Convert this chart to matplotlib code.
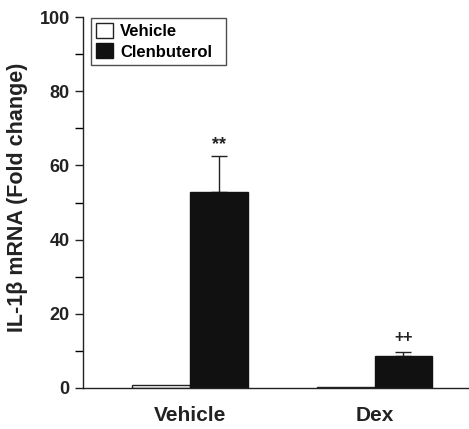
import matplotlib
matplotlib.use("Agg")
import matplotlib.pyplot as plt
import numpy as np
from matplotlib.ticker import MultipleLocator

groups = ["Vehicle", "Dex"]
series = ["Vehicle", "Clenbuterol"]
vehicle_vals = [0.8, 0.3]
clen_vals = [52.9, 8.6]
clen_err = [9.5, 1.1]
annotations = ["**", "++"]
annot_sizes = [13, 11.5]
annot_offsets = [1.0, 1.8]

plt.rcParams['font.family'] = ['Liberation Sans', 'DejaVu Sans']
plt.rcParams['font.weight'] = 'bold'

fig = plt.figure(figsize=(4.69, 4.29), dpi=100)
ax = fig.add_axes([83/469, 1-388/429, 1-83/469, (388-17)/429])

x = np.arange(len(groups))
w = 0.314
ax.bar(x - w/2, vehicle_vals, w, color='white', edgecolor='#222222', linewidth=1.0,
       label=series[0], zorder=2)
ax.bar(x + w/2, clen_vals, w, color='#111111', edgecolor='#111111', linewidth=1.0,
       label=series[1], zorder=2)
ax.errorbar(x + w/2, clen_vals, yerr=[np.zeros(len(x)), clen_err], fmt='none',
            ecolor='#222222', elinewidth=1.0, capsize=6, capthick=1.0, zorder=1)

for xi, v, e, a, fs, off in zip(x, clen_vals, clen_err, annotations, annot_sizes, annot_offsets):
    ax.text(xi + w/2, v + e + off, a, ha='center', va='bottom', fontsize=fs,
            fontweight='bold', color='#222222')

ax.set_xlim(-0.58, 1.512)
ax.set_ylim(0, 100)
ax.yaxis.set_major_locator(MultipleLocator(20))
ax.yaxis.set_minor_locator(MultipleLocator(10))
ax.set_xticks(x)
ax.set_xticklabels(groups, fontsize=15, fontweight='bold', color='#222222')
ax.tick_params(axis='x', length=0, pad=13)
ax.tick_params(axis='y', which='major', length=6, width=1.0, labelsize=13, colors='#222222')
ax.tick_params(axis='y', which='minor', length=6, width=1.0)
for lab in ax.get_yticklabels():
    lab.set_fontweight('bold')
ax.spines['top'].set_visible(False)
ax.spines['right'].set_visible(False)
for s in ['left', 'bottom']:
    ax.spines[s].set_linewidth(1.0)
    ax.spines[s].set_color('#222222')

ax.set_ylabel("IL-1β mRNA (Fold change)", fontsize=15.5, fontweight='bold',
              color='#222222')
ax.yaxis.set_label_coords(-0.142, 0.515)

leg = ax.legend(loc='upper left', bbox_to_anchor=(0.02, 0.997, 0.35, 0.0),
                mode='expand', fontsize=12,
                frameon=True, fancybox=False, edgecolor='#222222',
                handlelength=1.05, handleheight=1.0, handletextpad=0.4,
                borderpad=0.3, labelspacing=0.25, borderaxespad=0.0)
leg.get_frame().set_linewidth(1.0)
for t in leg.get_texts():
    t.set_fontweight('bold')

fig.savefig("out.png", dpi=100)
